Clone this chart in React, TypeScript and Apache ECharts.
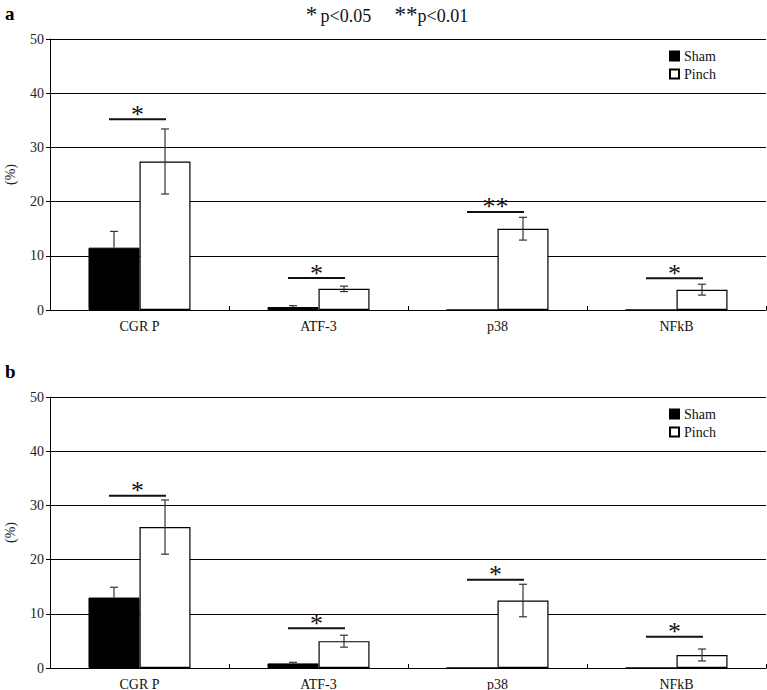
import React, { useEffect, useRef } from "react";
import * as echarts from "echarts";

const categories = ["CGR P", "ATF-3", "p38", "NFkB"];
const seriesNames = ["Sham", "Pinch"];

// Panel a
const shamA = [11.5, 0.55, 0, 0];
const shamErrA = [3.0, 0.25, 0, 0];
const pinchA = [27.4, 3.9, 15.0, 3.75];
const pinchErrA = [6.0, 0.5, 2.1, 1.0];
const sigLevelA = [35.2, 5.9, 18.1, 5.85];
const sigMarkA = ["*", "*", "**", "*"];

// Panel b
const shamB = [13.0, 0.85, 0, 0];
const shamErrB = [1.9, 0.2, 0, 0];
const pinchB = [26.0, 4.95, 12.45, 2.4];
const pinchErrB = [5.0, 1.1, 3.0, 1.1];
const sigLevelB = [31.8, 7.35, 16.3, 5.75];
const sigMarkB = ["*", "*", "*", "*"];

const FONT = "Liberation Serif";
const CAT_GAP = 0.43;

function errorData(vals: number[], errs: number[], side: number, upperOnly: boolean) {
  const out: number[][] = [];
  vals.forEach((v, i) => {
    if (errs[i] > 0) out.push([i, v, upperOnly ? v : v - errs[i], v + errs[i], side]);
  });
  return out;
}

const errRender = (params: any, api: any) => {
  const cat = api.value(0);
  const val = api.value(1);
  const lo = api.value(2);
  const hi = api.value(3);
  const side = api.value(4);
  const band = api.size([1, 0])[0];
  const barW = (band * (1 - CAT_GAP)) / 2;
  const c = api.coord([cat, val]);
  const x = c[0] + (side * barW) / 2;
  const yHi = api.coord([cat, hi])[1];
  const yLo = api.coord([cat, lo])[1];
  const cap = 4;
  const st = { stroke: "#333", lineWidth: 1.2 };
  const children: any[] = [
    { type: "line", shape: { x1: x, y1: yHi, x2: x, y2: yLo }, style: st },
    { type: "line", shape: { x1: x - cap, y1: yHi, x2: x + cap, y2: yHi }, style: st },
  ];
  if (lo < val) {
    children.push({ type: "line", shape: { x1: x - cap, y1: yLo, x2: x + cap, y2: yLo }, style: st });
  }
  return { type: "group", children };
};

const makeSigRender = (marks: string[]) => (params: any, api: any) => {
  const cat = api.value(0);
  const lvl = api.value(1);
  const p = api.coord([cat, lvl]);
  const cx = p[0] - 2;
  const half = 28.5;
  return {
    type: "group",
    children: [
      {
        type: "line",
        shape: { x1: cx - half, y1: p[1], x2: cx + half, y2: p[1] },
        style: { stroke: "#111", lineWidth: 2 },
      },
      {
        type: "text",
        style: {
          text: marks[params.dataIndex],
          x: cx,
          y: p[1] + 8,
          align: "center",
          verticalAlign: "bottom",
          fontSize: 26,
          fontFamily: FONT,
          fill: "#111",
        },
      },
    ],
  };
};

function panelSeries(idx: number, sham: number[], shamErr: number[], pinch: number[], pinchErr: number[], sig: number[], marks: string[]) {
  return [
    {
      name: "Sham",
      type: "bar",
      xAxisIndex: idx,
      yAxisIndex: idx,
      data: sham,
      barGap: "0%",
      barCategoryGap: "43%",
      itemStyle: { color: "#000", borderColor: "#000", borderWidth: 1 },
      z: 2,
    },
    {
      name: "Pinch",
      type: "bar",
      xAxisIndex: idx,
      yAxisIndex: idx,
      data: pinch,
      barGap: "0%",
      barCategoryGap: "43%",
      itemStyle: { color: "#fff", borderColor: "#000", borderWidth: 1.2 },
      z: 2,
    },
    {
      type: "custom",
      xAxisIndex: idx,
      yAxisIndex: idx,
      renderItem: errRender,
      encode: { x: 0, y: 1 },
      data: [...errorData(sham, shamErr, -1, true), ...errorData(pinch, pinchErr, 1, false)],
      z: 5,
      silent: true,
    },
    {
      type: "custom",
      xAxisIndex: idx,
      yAxisIndex: idx,
      renderItem: makeSigRender(marks),
      encode: { x: 0, y: 1 },
      data: sig.map((v, i) => [i, v]),
      z: 5,
      silent: true,
    },
  ];
}

function xAxis(gridIndex: number) {
  return {
    type: "category",
    gridIndex,
    data: categories,
    boundaryGap: true,
    axisLine: { show: true, lineStyle: { color: "#000", width: 1 } },
    axisTick: { show: true, inside: true, length: 4, interval: 0, lineStyle: { color: "#000" } },
    axisLabel: { color: "#111", fontSize: 14, fontFamily: FONT, margin: 9 },
    splitLine: { show: false },
  };
}

function yAxis(gridIndex: number) {
  return {
    type: "value",
    gridIndex,
    min: 0,
    max: 50,
    interval: 10,
    name: "(%)",
    nameLocation: "middle",
    nameGap: 33,
    nameTextStyle: { color: "#222", fontSize: 14, fontFamily: FONT },
    axisLine: { show: true, lineStyle: { color: "#000", width: 1 } },
    axisTick: { show: true, length: 4, lineStyle: { color: "#000" } },
    axisLabel: { color: "#222", fontSize: 14, fontFamily: FONT, margin: 6 },
    splitLine: { show: true, lineStyle: { color: "#000", width: 1 } },
  };
}

function legend(top: number) {
  return {
    data: seriesNames,
    orient: "vertical",
    left: 669,
    top,
    itemWidth: 9,
    itemHeight: 9,
    itemGap: 4,
    icon: "rect",
    textStyle: { color: "#111", fontSize: 14, fontFamily: FONT },
    padding: 0,
  };
}

export default function App() {
  const ref = useRef<HTMLDivElement>(null);
  useEffect(() => {
    if (!ref.current) return;
    const chart = echarts.init(ref.current, null, { renderer: "svg" });
    chart.setOption({
      animation: false,
      backgroundColor: "#fff",
      grid: [
        { left: 50, right: 1, top: 39, height: 271, outerBoundsMode: "none", containLabel: false },
        { left: 50, right: 1, top: 397, height: 271, outerBoundsMode: "none", containLabel: false },
      ],
      legend: [legend(49), legend(407)],
      xAxis: [xAxis(0), xAxis(1)],
      yAxis: [yAxis(0), yAxis(1)],
      graphic: [
        {
          type: "text",
          left: 5,
          top: 4,
          style: { text: "a", fontSize: 19, fontWeight: "bold", fontFamily: FONT, fill: "#000" },
        },
        {
          type: "text",
          left: 5,
          top: 362,
          style: { text: "b", fontSize: 19, fontWeight: "bold", fontFamily: FONT, fill: "#000" },
        },
        {
          type: "text",
          x: 387,
          y: 16,
          style: {
            text: "{s|*} {p|p<0.05}       {s|**}{p|p<0.01}",
            align: "center",
            verticalAlign: "middle",
            rich: {
              s: { fontSize: 23, fontFamily: FONT, fill: "#111", padding: [0, 0, 3, 0] },
              p: { fontSize: 18, fontFamily: FONT, fill: "#111" },
            },
          },
        },
      ],
      series: [
        ...panelSeries(0, shamA, shamErrA, pinchA, pinchErrA, sigLevelA, sigMarkA),
        ...panelSeries(1, shamB, shamErrB, pinchB, pinchErrB, sigLevelB, sigMarkB),
      ],
    });
    return () => chart.dispose();
  }, []);
  return <div ref={ref} style={{ position: "fixed", left: 0, top: 0, width: 767, height: 690 }} />;
}
